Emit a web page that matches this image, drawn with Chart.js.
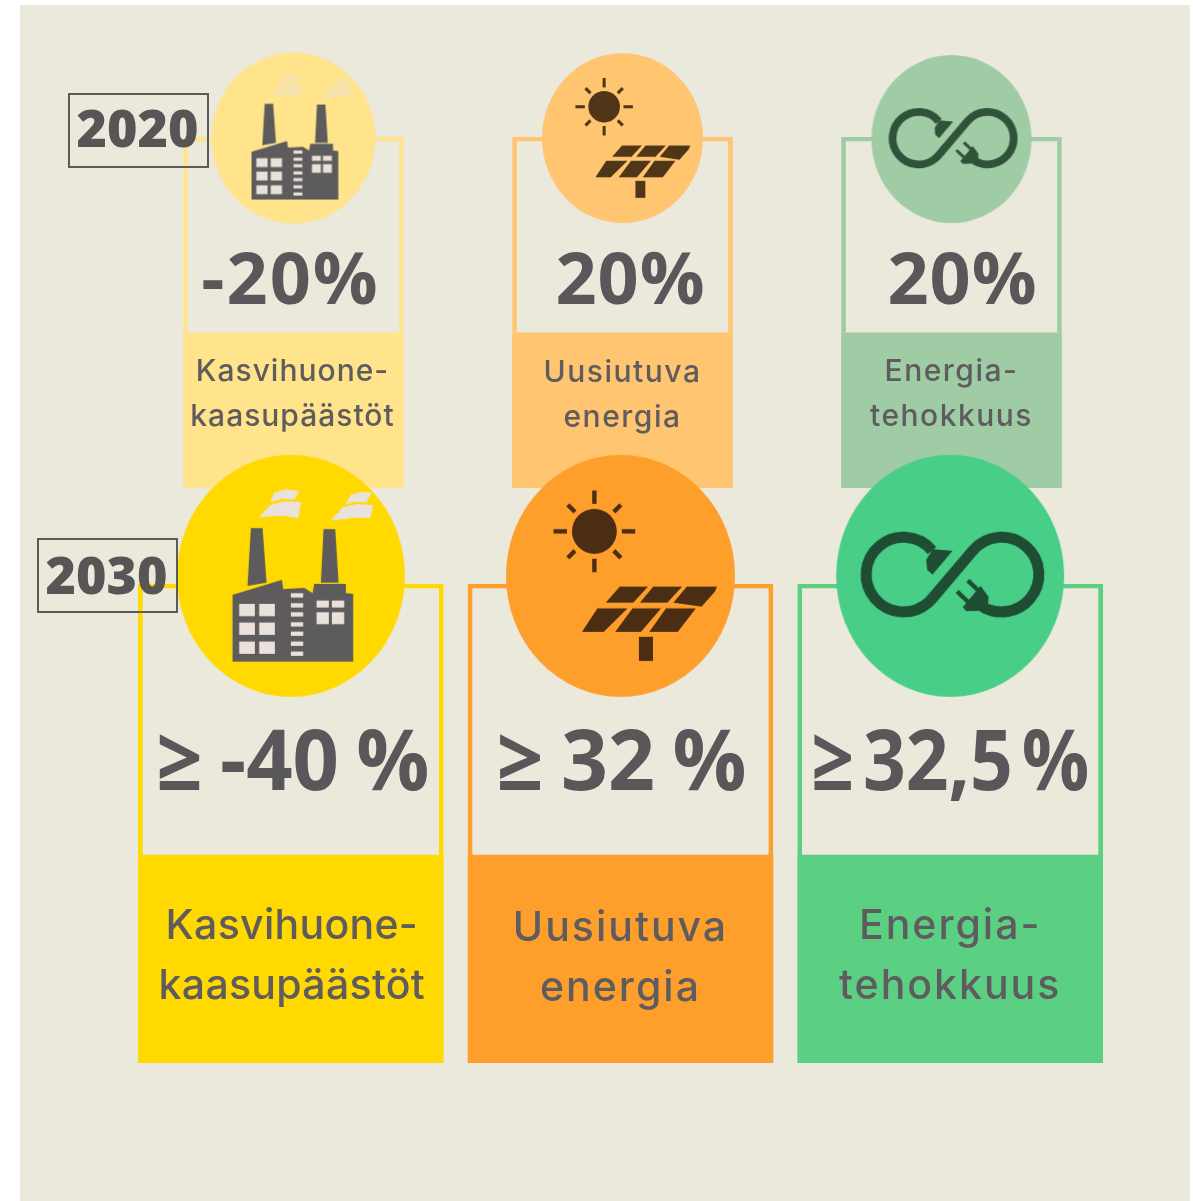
<!DOCTYPE html>
<html lang="fi">
<head>
<meta charset="utf-8">
<title>Energia- ja ilmastotavoitteet 2020 ja 2030</title>
<script src="https://cdn.jsdelivr.net/npm/chart.js@4/dist/chart.umd.min.js"></script>
<style>
    html, body { margin: 0; padding: 0; background: #fff; }
    #page { position: relative; width: 1193px; height: 1201px; overflow: hidden; }
    #paper { position: absolute; left: 20px; top: 5px; width: 1170px; height: 1196px; background: #ebe8dc; }
    canvas { position: absolute; left: 0; top: 0; }
</style>
</head>
<body>
<div id="page">
    <div id="paper"></div>
    <canvas id="chart2020" width="1193" height="1201"></canvas>
    <canvas id="chart2030" width="1193" height="1201"></canvas>
</div>
<script>
// =====================================================
// DATA
// =====================================================
const categories = ['Kasvihuonekaasupäästöt', 'Uusiutuva energia', 'Energiatehokkuus'];
const categoryLines = [['Kasvihuone-', 'kaasupäästöt'], ['Uusiutuva', 'energia'], ['Energia-', 'tehokkuus']];

const targets2020 = ['-20%', '20%', '20%'];
const targets2030 = ['≥ -40 %', '≥ 32 %', '≥ 32,5 %'];

// share of each card taken by the coloured panel, the rest is the outlined frame
const panelShare2020 = [44.2, 44.2, 44.2];
const panelShare2030 = [43.4, 43.4, 43.4];
const cardTop = [100, 100, 100];
const badgeLevel2020 = [99.7, 99.7, 99.4];
const badgeLevel2030 = [101.7, 101.7, 101.7];

// =====================================================
// ICONS (drawn once into small canvases, used as point styles)
// =====================================================
function poly(ctx, pts) {
    ctx.beginPath();
    for (let i = 0; i < pts.length; i += 2) {
        if (i === 0) ctx.moveTo(pts[i], pts[i + 1]);
        else ctx.lineTo(pts[i], pts[i + 1]);
    }
    ctx.closePath();
    ctx.fill();
}

// icon sketches use coordinates relative to the badge centre, at 2030 size x 3
function drawFactory(ctx, ink, light, smokeAlpha) {
    ctx.save();
    ctx.translate(-785, -378);
    ctx.fillStyle = ink;
    poly(ctx, [665, 235, 700, 235, 712, 398, 655, 408]);
    poly(ctx, [883, 238, 918, 238, 928, 398, 875, 398]);
    poly(ctx, [610, 435, 758, 390, 762, 418, 825, 414, 850, 430, 855, 402, 950, 402, 950, 430, 972, 432, 972, 635, 610, 635]);
    ctx.fillStyle = light;
    [630, 690].forEach(x => [462, 518, 575].forEach(y => ctx.fillRect(x, y, 47, 37)));
    [430, 460, 487, 517, 545, 575, 605].forEach(y => ctx.fillRect(785, y, 37, 13));
    [862, 908].forEach(x => {
        ctx.fillRect(x, 452, 37, 21);
        ctx.fillRect(x, 487, 37, 36);
    });
    ctx.globalAlpha = smokeAlpha;
    poly(ctx, [735, 128, 770, 118, 810, 124, 795, 150, 760, 146, 722, 158]);
    poly(ctx, [722, 166, 765, 154, 815, 156, 808, 205, 760, 198, 690, 202]);
    poly(ctx, [965, 134, 995, 126, 1028, 128, 1010, 158, 975, 156, 948, 164]);
    poly(ctx, [940, 172, 985, 162, 1032, 166, 1024, 204, 975, 204, 905, 212]);
    ctx.restore();
}

function drawSolar(ctx, ink) {
    ctx.save();
    ctx.translate(-390, -378);
    ctx.fillStyle = ink;
    ctx.strokeStyle = ink;
    ctx.lineWidth = 13;
    ctx.beginPath();
    ctx.arc(312, 245, 67, 0, Math.PI * 2);
    ctx.fill();
    for (let a = 0; a < 8; a++) {
        const ang = a * Math.PI / 4;
        const long = a % 2 === 0 ? 122 : 112;
        ctx.beginPath();
        ctx.moveTo(312 + Math.cos(ang) * 82, 245 + Math.sin(ang) * 82);
        ctx.lineTo(312 + Math.cos(ang) * long, 245 + Math.sin(ang) * long);
        ctx.stroke();
    }
    poly(ctx, [388, 410, 472, 410, 428, 458, 346, 458]);
    poly(ctx, [488, 410, 574, 410, 530, 458, 448, 458]);
    poly(ctx, [588, 410, 678, 410, 672, 425, 632, 470, 548, 458]);
    poly(ctx, [321, 475, 411, 475, 340, 545, 275, 545]);
    poly(ctx, [426, 475, 511, 475, 451, 545, 374, 545]);
    poly(ctx, [526, 475, 615, 475, 561, 545, 476, 545]);
    ctx.fillRect(445, 560, 42, 72);
    ctx.restore();
}

function drawInfinity(ctx, ink) {
    const r = 112, cy = 374, lx = 337, rx = 631;
    const tangent = Math.asin(r / ((rx - lx) / 2));
    const low = Math.PI / 2 - tangent;
    ctx.save();
    ctx.translate(-477, -378);
    ctx.strokeStyle = ink;
    ctx.fillStyle = ink;
    ctx.lineWidth = 33;
    ctx.lineCap = 'butt';
    ctx.beginPath();
    ctx.arc(lx, cy, r, -0.7, low, true);
    ctx.lineTo(rx + Math.cos(Math.PI + low) * r, cy + Math.sin(Math.PI + low) * r);
    ctx.arc(rx, cy, r, Math.PI + low, 2.1);
    ctx.stroke();
    // socket end
    poly(ctx, [405, 330, 425, 298, 484, 303, 424, 374, 408, 360]);
    // plug end
    poly(ctx, [568, 408, 592, 440, 590, 482, 525, 484, 515, 472]);
    ctx.lineWidth = 13;
    ctx.beginPath();
    ctx.moveTo(530, 392);
    ctx.lineTo(572, 432);
    ctx.moveTo(498, 425);
    ctx.lineTo(540, 465);
    ctx.stroke();
    ctx.restore();
}

function makeBadge(rx, ry, fill, drawIcon) {
    const c = document.createElement('canvas');
    c.width = Math.ceil(rx * 2) + 2;
    c.height = Math.ceil(ry * 2) + 2;
    const ctx = c.getContext('2d');
    ctx.fillStyle = fill;
    ctx.beginPath();
    ctx.ellipse(c.width / 2, c.height / 2, rx, ry, 0, 0, Math.PI * 2);
    ctx.fill();
    ctx.translate(c.width / 2, c.height / 2);
    ctx.scale(rx / 114 / 3, rx / 114 / 3);
    drawIcon(ctx);
    return c;
}

// =====================================================
// TEXT ON TOP OF THE CARDS
// =====================================================
function line(ctx, text, x, y, font, spacing, maxWidth) {
    ctx.font = font;
    ctx.letterSpacing = spacing + 'px';
    if (maxWidth) ctx.fillText(text, x, y, maxWidth);
    else ctx.fillText(text, x, y);
}

const cardText = {
    id: 'cardText',
    afterDatasetsDraw(chart, args, opts) {
        const { ctx, scales: { x } } = chart;
        ctx.save();
        ctx.textAlign = 'center';
        ctx.textBaseline = 'middle';
        ctx.fillStyle = '#59575a';
        opts.targets.forEach((text, i) => {
            ctx.wordSpacing = opts.targetWordSpacing[i] + 'px';
            line(ctx, text, x.getPixelForValue(i) + opts.targetShift[i], opts.targetY, opts.targetFont, opts.targetSpacing[i], opts.targetWidth[i]);
        });
        ctx.wordSpacing = '0px';
        ctx.fillStyle = '#5f5c5f';
        categoryLines.forEach((rows, i) => {
            rows.forEach((text, r) => {
                line(ctx, text, x.getPixelForValue(i) + opts.nameShift[i], opts.nameY[r] + opts.nameNudge[i], opts.nameFont, opts.nameSpacing[i]);
            });
        });
        // year box
        const b = opts.yearBox;
        ctx.strokeStyle = '#5c5b5b';
        ctx.lineWidth = 2;
        ctx.strokeRect(b.x, b.y, b.w, b.h);
        ctx.fillStyle = '#575556';
        line(ctx, opts.year, b.x + b.w / 2 - 1, b.y + opts.yearDrop, '800 52px "Open Sans"', 0);
        ctx.restore();
    }
};

// =====================================================
// CHARTS
// =====================================================
function renderRow(canvasId, row) {
    const ctx = document.getElementById(canvasId).getContext('2d');
    return new Chart(ctx, {
        type: 'bar',
        data: {
            labels: categories,
            datasets: [{
                type: 'line',
                data: row.badgeLevel,
                showLine: false,
                pointStyle: row.badges,
                pointRadius: 10,
                clip: false,
                order: 0
            }, {
                data: row.panel.map(v => [0, v]),
                backgroundColor: row.colors,
                borderWidth: 0,
                barThickness: row.barWidth,
                grouped: false,
                order: 1
            }, {
                data: row.panel.map((v, i) => [v, cardTop[i]]),
                backgroundColor: 'transparent',
                borderColor: row.colors,
                borderWidth: 4,
                borderSkipped: 'bottom',
                barThickness: row.barWidth,
                grouped: false,
                order: 2
            }]
        },
        options: {
            responsive: false,
            animation: false,
            layout: { padding: row.padding },
            plugins: { legend: { display: false }, tooltip: { enabled: false }, cardText: row.text },
            scales: {
                x: { display: false },
                y: { display: false, min: 0, max: 100 }
            }
        },
        plugins: [cardText]
    });
}

const dark = '#5d5b5c';
const light = '#e9e1da';

renderRow('chart2020', {
    panel: panelShare2020,
    badgeLevel: badgeLevel2020,
    barWidth: 220,
    colors: ['#ffe48c', '#ffc570', '#9fcba5'],
    padding: { left: 129, right: 77, top: 137, bottom: 713 },
    badges: [
        makeBadge(82, 85.5, '#ffe48c', c => drawFactory(c, dark, light, 0.45)),
        makeBadge(80.5, 85, '#ffc570', c => drawSolar(c, '#4f3618')),
        makeBadge(80, 84, '#9fcba5', c => drawInfinity(c, '#2f5239'))
    ],
    text: {
        year: '2020',
        yearBox: { x: 69, y: 94, w: 139, h: 73 },
        yearDrop: 38,
        targets: targets2020,
        targetShift: [-3, 8, 11],
        targetSpacing: [2, 1, 1],
        targetWordSpacing: [0, 0, 0],
        targetWidth: [null, null, null],
        targetY: 283,
        targetFont: '700 72px "Open Sans"',
        nameY: [372, 417],
        nameNudge: [0, 1, 0],
        nameShift: [-1, 0, 0],
        nameFont: '500 30px Inter',
        nameSpacing: [1, 1.5, 1.5]
    }
});

renderRow('chart2030', {
    panel: panelShare2030,
    badgeLevel: badgeLevel2030,
    barWidth: 305,
    colors: ['#ffd900', '#ff9f2b', '#5bd083'],
    padding: { left: 126, right: 78, top: 584, bottom: 138 },
    badges: [
        makeBadge(114, 121, '#ffd900', c => drawFactory(c, dark, light, 1)),
        makeBadge(114.5, 121, '#ff9f2b', c => drawSolar(c, '#4a2d12')),
        makeBadge(114, 121, '#48ce86', c => drawInfinity(c, '#1f4d33'))
    ],
    text: {
        year: '2030',
        yearBox: { x: 38, y: 539, w: 139, h: 73 },
        yearDrop: 40,
        targets: targets2030,
        targetShift: [2, 1, 0],
        targetSpacing: [0, 0, 0],
        targetWordSpacing: [-4, -4, -12],
        targetWidth: [273, 250, 278],
        targetY: 766,
        targetFont: '700 85px "Open Sans"',
        nameY: [927, 987],
        nameNudge: [0, 2, 0],
        nameShift: [1, 0, 0],
        nameFont: '500 41px Inter',
        nameSpacing: [0.3, 2, 2]
    }
});
</script>
</body>
</html>
